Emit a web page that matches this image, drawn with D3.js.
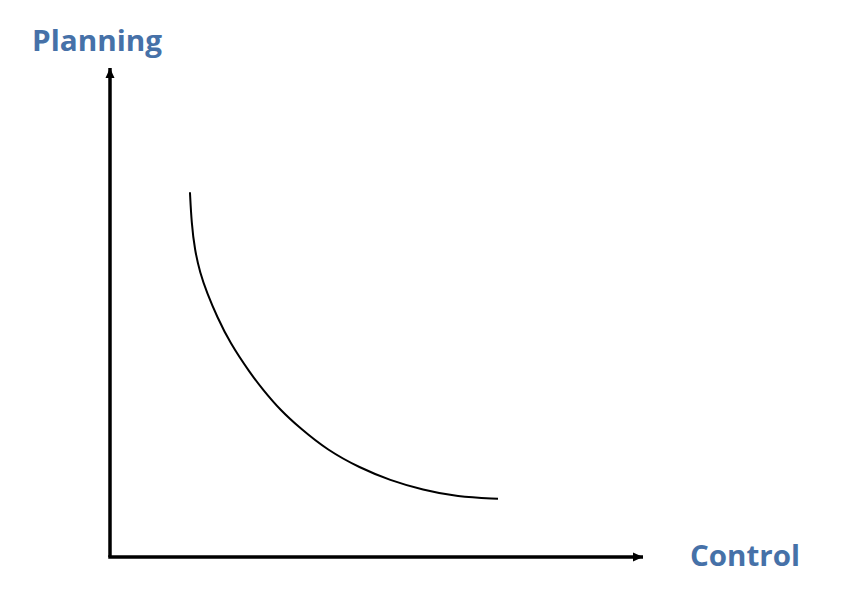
<!DOCTYPE html>
<html>
<head>
<meta charset="utf-8">
<script src="https://cdn.jsdelivr.net/npm/d3@7"></script>
<style>
  body { margin: 0; background: #fff; }
  svg { display: block; }
</style>
</head>
<body>
<svg id="chart"></svg>
<script>
// curve, in axis units (0..100 each way)
var controlValues  = [15.0, 15.3, 15.9, 16.9, 18.2, 20.1, 22.5, 26.3, 28.7, 31.9, 35.6, 40.7, 46.9, 52.5, 58.7, 65.1, 72.8];
var planningValues = [74.6, 68.3, 62.8, 58.1, 54.0, 49.1, 43.8, 37.6, 34.2, 30.1, 26.4, 21.9, 18.2, 15.7, 13.7, 12.3, 11.9];
var axisLabels = ["Control", "Planning"];

var width = 843, height = 600;
var svg = d3.select("#chart").attr("width", width).attr("height", height);

var x = d3.scaleLinear().domain([0, 100]).range([110, 643]);
var y = d3.scaleLinear().domain([0, 100]).range([557, 68]);

// arrowhead
svg.append("defs").append("marker")
    .attr("id", "arrow")
    .attr("markerUnits", "userSpaceOnUse")
    .attr("viewBox", "0 0 10 10")
    .attr("refX", 10)
    .attr("refY", 5)
    .attr("markerWidth", 10)
    .attr("markerHeight", 10)
    .attr("orient", "auto")
  .append("path")
    .attr("d", "M0,0.5 L10,5 L0,9.5 Z")
    .attr("fill", "#000");

// axes
svg.append("line")
    .attr("x1", x(0)).attr("y1", y(0))
    .attr("x2", x(0)).attr("y2", y(100))
    .attr("stroke", "#000")
    .attr("stroke-width", 3.5)
    .attr("marker-end", "url(#arrow)");

svg.append("line")
    .attr("x1", x(0) - 1.75).attr("y1", y(0))
    .attr("x2", x(100)).attr("y2", y(0))
    .attr("stroke", "#000")
    .attr("stroke-width", 3.5)
    .attr("marker-end", "url(#arrow)");

// curve
var points = controlValues.map((c, i) => [c, planningValues[i]]);

var line = d3.line()
    .x(d => x(d[0]))
    .y(d => y(d[1]))
    .curve(d3.curveBasis);

svg.append("path")
    .datum(points)
    .attr("d", line)
    .attr("fill", "none")
    .attr("stroke", "#000")
    .attr("stroke-width", 2);

// axis titles
var titleFont = "'Open Sans', Lato, sans-serif";

svg.append("text")
    .attr("x", 690)
    .attr("y", 566)
    .attr("font-family", titleFont)
    .attr("font-weight", "bold")
    .attr("font-size", 28)
    .attr("fill", "#4671a8")
    .attr("textLength", 110)
    .attr("lengthAdjust", "spacingAndGlyphs")
    .text(axisLabels[0]);

svg.append("text")
    .attr("x", 32)
    .attr("y", 51)
    .attr("font-family", titleFont)
    .attr("font-weight", "bold")
    .attr("font-size", 28)
    .attr("fill", "#4671a8")
    .attr("textLength", 130)
    .attr("lengthAdjust", "spacingAndGlyphs")
    .text(axisLabels[1]);
</script>
</body>
</html>
